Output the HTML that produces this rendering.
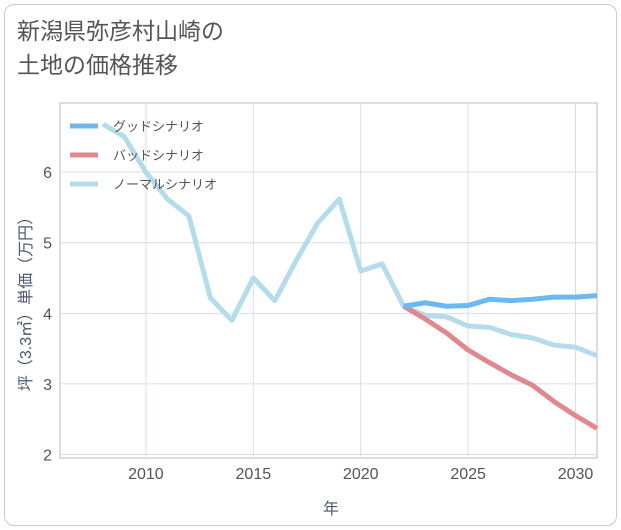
<!DOCTYPE html>
<html><head><meta charset="utf-8"><style>
body{margin:0;width:621px;height:530px;background:#fff;font-family:"Liberation Sans","Noto Sans CJK JP",sans-serif;}
.card{position:absolute;left:4px;top:4px;width:611px;height:520px;border:1px solid #ccc;border-radius:10px;}
.title{position:absolute;left:17px;top:14px;font-size:23px;line-height:34px;color:#555;}
</style></head><body>
<div class="card"></div>
<div class="title">新潟県弥彦村山崎の<br>土地の価格推移</div>
<svg id="c" width="621" height="530" style="position:absolute;left:0;top:0"></svg>
<script>
const years=[2008,2009,2010,2011,2012,2013,2014,2015,2016,2017,2018,2019,2020,2021,2022,2023,2024,2025,2026,2027,2028,2029,2030,2031];
const normal=[6.68,6.5,6.0,5.62,5.38,4.22,3.9,4.5,4.18,4.75,5.28,5.62,4.6,4.7,4.1,3.97,3.95,3.82,3.8,3.7,3.65,3.55,3.52,3.4];
const futureYears=[2022,2023,2024,2025,2026,2027,2028,2029,2030,2031];
const good=[4.1,4.15,4.1,4.11,4.2,4.18,4.2,4.23,4.23,4.25];
const bad=[4.1,3.92,3.72,3.48,3.3,3.13,2.98,2.75,2.55,2.37];
const xTicks=[2010,2015,2020,2025,2030];
const yTicks=[2,3,4,5,6];
const L=60,R=597,T=103,B=458,x0=2006,x1=2031,y0=1.95,y1=6.98;
const X=v=>L+(v-x0)/(x1-x0)*(R-L), Y=v=>B-(v-y0)/(y1-y0)*(B-T);
const s=document.getElementById('c');const NS='http://www.w3.org/2000/svg';
function el(t,a,p){const e=document.createElementNS(NS,t);for(const k in a)e.setAttribute(k,a[k]);(p||s).appendChild(e);return e;}
const bg=el('rect',{x:L,y:T,width:R-L,height:B-T,fill:'#fff',stroke:'#bbb'});


xTicks.forEach(t=>{const g=el('line',{x1:X(t),x2:X(t),y1:T,y2:B,stroke:'#d6e0ea'});


const tx=el('text',{x:X(t),y:B+21,'text-anchor':'middle','font-size':16,fill:'#555'});tx.textContent=t;

});
yTicks.forEach(t=>{const g=el('line',{x1:L,x2:R,y1:Y(t),y2:Y(t),stroke:'#d6e0ea'});


const tx=el('text',{x:L-8,y:Y(t)+6,'text-anchor':'end','font-size':16,fill:'#555'});tx.textContent=t;

});
function line(xs,ys,c,n){const p=el('polyline',{points:xs.map((v,i)=>X(v)+','+Y(ys[i])).join(' '),fill:'none',stroke:c,'stroke-width':5,'stroke-linejoin':'round'});

}
line(years,normal,'#b5dcea','normal-scenario-line');
line(futureYears,bad,'#e08890','bad-scenario-line');
line(futureYears,good,'#6cb8f0','good-scenario-line');
const leg=[['グッドシナリオ','#6cb8f0',126],['バッドシナリオ','#e08890',155],['ノーマルシナリオ','#b5dcea',184]];
leg.forEach(l=>{const ln=el('line',{x1:70,x2:98,y1:l[2],y2:l[2],stroke:l[1],'stroke-width':5});


const t=el('text',{x:113,y:l[2]+5,'font-size':13,fill:'#555'});t.textContent=l[0];

});
const xt=el('text',{x:331,y:514,'text-anchor':'middle','font-size':16,fill:'#4a5a6a'});xt.textContent='年';


const yt=el('text',{x:0,y:0,'text-anchor':'middle','font-size':16,fill:'#4a5a6a',transform:'translate(31,300) rotate(-90)'});yt.textContent='坪（3.3㎡）単価（万円）';


</script>
</body></html>
